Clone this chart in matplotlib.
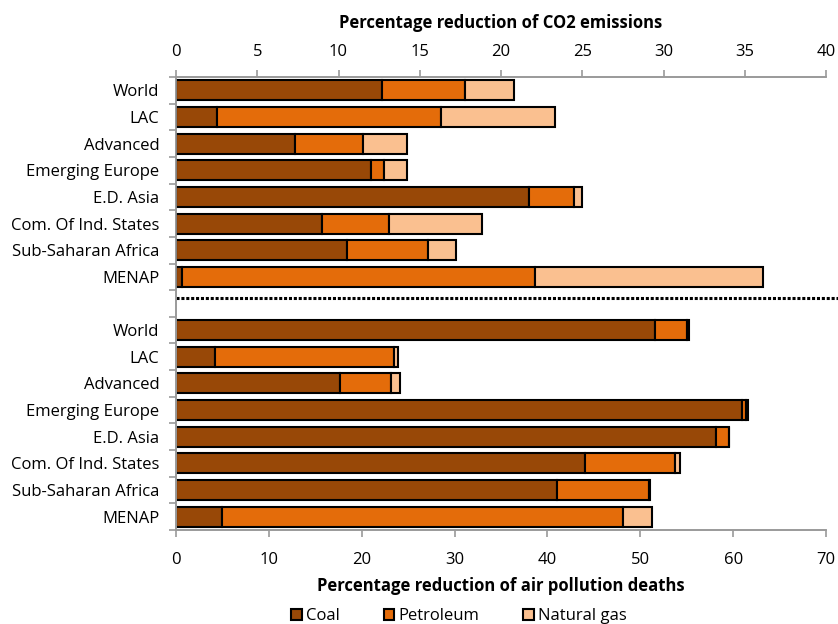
import matplotlib.pyplot as plt
from matplotlib.patches import Patch

plt.rcParams['font.family'] = ['Open Sans', 'DejaVu Sans']

# Regions (same order in both panels)
regions = ['World', 'LAC', 'Advanced', 'Emerging Europe', 'E.D. Asia',
           'Com. Of Ind. States', 'Sub-Saharan Africa', 'MENAP']

# Percentage reduction of CO2 emissions, by fuel
co2_coal = [12.7, 2.5, 7.3, 12.0, 21.7, 9.0, 10.5, 0.35]
co2_petroleum = [5.1, 13.8, 4.2, 0.8, 2.8, 4.1, 5.0, 21.75]
co2_gas = [3.0, 7.0, 2.7, 1.4, 0.5, 5.7, 1.7, 14.0]

# Percentage reduction of air pollution deaths, by fuel
deaths_coal = [51.6, 4.25, 17.7, 61.0, 58.1, 44.0, 41.0, 5.0]
deaths_petroleum = [3.4, 19.25, 5.5, 0.4, 1.4, 9.7, 9.9, 43.1]
deaths_gas = [0.2, 0.4, 0.9, 0.2, 0.1, 0.6, 0.1, 3.2]

fuels = ['Coal', 'Petroleum', 'Natural gas']
colors = ['#984807', '#E46C0A', '#FAC090']

fig = plt.figure(figsize=(8.38, 6.24), dpi=100)
ax = fig.add_axes([176 / 838, 94 / 624, 650 / 838, 453 / 624])
ax_top = ax.twiny()

y_top = list(range(8))
y_bottom = list(range(9, 17))
bar_kw = dict(height=0.75, edgecolor='black', linewidth=1.5)


def stacked(axis, ypos, parts):
    left = [0] * len(ypos)
    for vals, col in zip(parts, colors):
        axis.barh(ypos, vals, left=left, color=col, **bar_kw)
        left = [a + b for a, b in zip(left, vals)]


stacked(ax_top, y_top, [co2_coal, co2_petroleum, co2_gas])
stacked(ax, y_bottom, [deaths_coal, deaths_petroleum, deaths_gas])

ax.set_ylim(16.5, -0.5)
ax.set_xlim(0, 70)
ax_top.set_xlim(0, 40)
ax.set_xticks(range(0, 71, 10))
ax_top.set_xticks(range(0, 41, 5))

ax.set_yticks(y_top + y_bottom)
ax.set_yticklabels(regions + regions)
ax.set_yticks([i - 0.5 for i in range(18)], minor=True)
ax.tick_params(axis='y', which='major', length=0, pad=12, labelsize=12)
ax.tick_params(axis='y', which='minor', length=5, color='#9a9a9a', width=1.2)
ax.tick_params(axis='x', length=5, color='#9a9a9a', width=1.2, pad=11, labelsize=12)
ax_top.tick_params(axis='x', length=5, color='#9a9a9a', width=1.2, pad=7, labelsize=12)

for a in (ax, ax_top):
    a.spines['right'].set_visible(False)
    for s in ('left', 'top', 'bottom'):
        a.spines[s].set_color('#9a9a9a')
        a.spines[s].set_linewidth(1.2)

ax_top.set_xlabel('Percentage reduction of CO2 emissions', fontsize=12,
                  fontweight='bold', labelpad=12)
ax.set_xlabel('Percentage reduction of air pollution deaths', fontsize=12,
              fontweight='bold', labelpad=6)

# dotted separator between the two panels
ax.plot([0, 1.02], [7.8, 7.8], transform=ax.get_yaxis_transform(),
        color='black', linestyle=(0, (1, 0.6)), linewidth=2.2, clip_on=False)

handles = [Patch(facecolor=c, edgecolor='black', linewidth=1.5, label=f)
           for f, c in zip(fuels, colors)]
fig.legend(handles=handles, loc='center', bbox_to_anchor=(459 / 838, 1 - 616 / 624),
           ncol=3, frameon=False, fontsize=12, handlelength=0.65, handleheight=0.65,
           handletextpad=0.25, columnspacing=2.6)

fig.savefig('out.png', dpi=100)
